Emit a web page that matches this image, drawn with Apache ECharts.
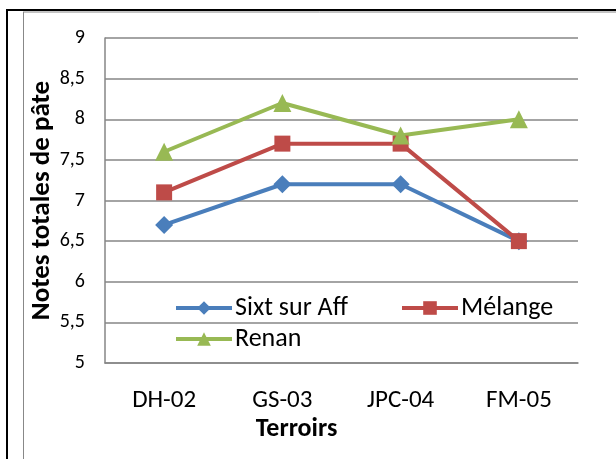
<!DOCTYPE html>
<html><head><meta charset="utf-8">
<script src="https://cdn.jsdelivr.net/npm/echarts@6/dist/echarts.min.js"></script>
<style>html,body{margin:0;padding:0;background:#fff}#c{width:616px;height:459px}</style>
</head><body><div id="c"></div>
<script>
const categories = ['DH-02', 'GS-03', 'JPC-04', 'FM-05'];
const sixt = [6.7, 7.2, 7.2, 6.5];
const melange = [7.1, 7.7, 7.7, 6.5];
const renan = [7.6, 8.2, 7.8, 8.0];
const seriesNames = ['Sixt sur Aff', 'Mélange', 'Renan'];

const FONT = 'Carlito, Lato, sans-serif';
const chart = echarts.init(document.getElementById('c'));
const legendBase = {
  itemWidth: 56, itemHeight: 17, itemGap: 4,
  lineStyle: {width: 4},
  textStyle: {fontFamily: FONT, fontSize: 26, color: '#000', padding: [0,0,0,-2]},
  backgroundColor: 'transparent'
};
chart.setOption({
  animation: false,
  graphic: [
    {type: 'line', shape: {x1: 7, y1: 10, x2: 616, y2: 10}, style: {stroke: '#000', lineWidth: 2}},
    {type: 'line', shape: {x1: 7, y1: 9, x2: 7, y2: 459}, style: {stroke: '#000', lineWidth: 2}},
    {type: 'line', shape: {x1: 23, y1: 12, x2: 616, y2: 12}, style: {stroke: '#888', lineWidth: 1}},
    {type: 'line', shape: {x1: 23.5, y1: 12, x2: 23.5, y2: 459}, style: {stroke: '#888', lineWidth: 1}}
  ],
  grid: {left: 105, top: 38, right: 38, bottom: 96},
  legend: [
    Object.assign({}, legendBase, {data: [seriesNames[0]], left: 169, top: 290}),
    Object.assign({}, legendBase, {data: [seriesNames[1]], left: 395, top: 290}),
    Object.assign({}, legendBase, {data: [seriesNames[2]], left: 169, top: 321})
  ],
  xAxis: {
    type: 'category', data: categories, boundaryGap: true,
    axisLine: {lineStyle: {color: '#868686', width: 1.5}},
    axisTick: {show: false},
    axisLabel: {fontFamily: FONT, fontSize: 25, color: '#000', margin: 25},
    name: 'Terroirs', nameLocation: 'middle', nameGap: 53, nameMoveOverlap: false,
    nameTextStyle: {fontFamily: FONT, fontSize: 26, fontWeight: 'bold', color: '#000', padding: [0, 90, 0, 0]}
  },
  yAxis: {
    type: 'value', min: 5, max: 9, interval: 0.5,
    axisLine: {show: true, lineStyle: {color: '#868686', width: 1.5}},
    axisTick: {show: false},
    splitLine: {lineStyle: {color: '#868686', width: 1.5}},
    axisLabel: {fontFamily: FONT, fontSize: 20, color: '#000', margin: 20,
      formatter: v => String(v).replace('.', ',')},
    name: 'Notes totales de pâte', nameLocation: 'middle', nameGap: 49, nameRotate: 90,
    nameMoveOverlap: false,
    nameTextStyle: {fontFamily: FONT, fontSize: 27, fontWeight: 'bold', color: '#000'}
  },
  series: [
    {name: seriesNames[0], type: 'line', data: sixt, symbol: 'diamond', symbolSize: 18,
      lineStyle: {width: 4, color: '#4A7EBB'}, itemStyle: {color: '#4A7EBB'}},
    {name: seriesNames[1], type: 'line', data: melange, symbol: 'rect', symbolSize: 16,
      lineStyle: {width: 4, color: '#BE4B48'}, itemStyle: {color: '#BE4B48'}},
    {name: seriesNames[2], type: 'line', data: renan, symbol: 'triangle', symbolSize: 18,
      lineStyle: {width: 4, color: '#98B954'}, itemStyle: {color: '#98B954'}}
  ]
});
</script></body></html>
